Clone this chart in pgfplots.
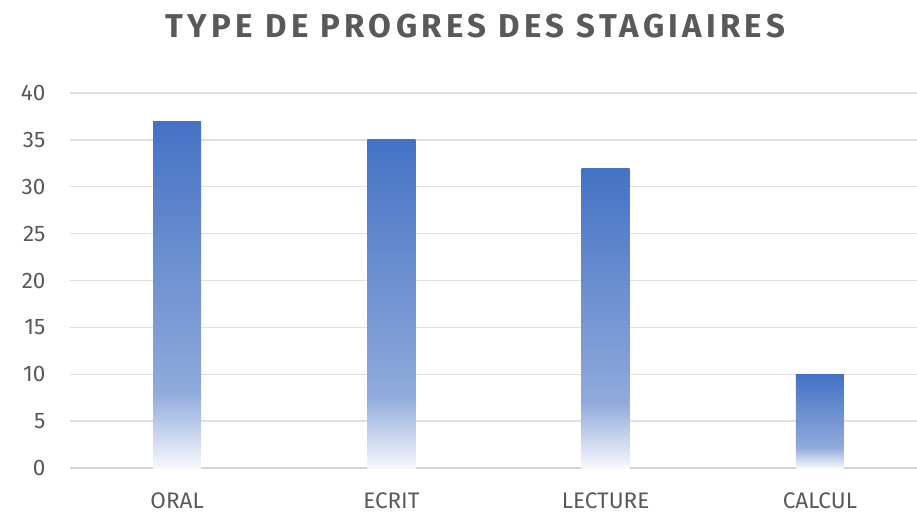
\documentclass[border=0pt]{standalone}
\usepackage{fontspec}
\setmainfont{Fira Sans}
\newfontfamily\titlefont[LetterSpace=13]{Fira Sans Bold}
\usepackage{pgfplots}
\pgfplotsset{compat=1.18}
\definecolor{txtgray}{HTML}{595959}
\definecolor{gridgray}{HTML}{E0E0E0}
\definecolor{axisgray}{HTML}{D4D4D4}
\definecolor{topblue}{HTML}{4472C4}
\definecolor{midblue}{HTML}{90AADB}
\definecolor{lowwhite}{HTML}{F6F8FC}
\pgfdeclareverticalshading{barfade}{100bp}{color(0bp)=(lowwhite); color(25bp)=(lowwhite); color(36bp)=(midblue); color(75bp)=(topblue); color(100bp)=(topblue)}
\begin{document}
\begin{tikzpicture}
\path[use as bounding box] (-70pt,-47pt) rectangle (847pt,468pt);
\begin{axis}[
  at={(0,0)}, anchor=south west,
  scale only axis,
  width=857pt, height=375pt,
  xmin=-0.5, xmax=3.5,
  ymin=0, ymax=40,
  ytick={0,5,...,40},
  xtick={0,1,2,3},
  xticklabels={ORAL,ECRIT,LECTURE,CALCUL},
  ymajorgrids,
  grid style={gridgray, line width=1.3pt},
  axis x line*=bottom,
  axis y line*=left,
  y axis line style={draw=none},
  x axis line style={axisgray, line width=1.6pt, -},
  major tick length=0pt,
  tick style={draw=none},
  ticklabel style={font=\fontsize{22.5}{26}\selectfont, text=txtgray},
  yticklabel style={xshift=-21pt},
  xticklabel style={yshift=-21pt},
  /pgf/number format/assume math mode=true,
  ybar, bar width=48pt,
  clip=false,
]
\addplot[draw=none, shading=barfade, bar shift=0pt] coordinates {(0,37)};
\addplot[draw=none, shading=barfade, bar shift=0pt] coordinates {(1,35)};
\addplot[draw=none, shading=barfade, bar shift=0pt] coordinates {(2,32)};
\addplot[draw=none, shading=barfade, bar shift=0pt] coordinates {(3,10)};
\end{axis}
\node[text=txtgray, font=\titlefont\fontsize{33}{38}\selectfont] at (405.5pt,442pt) {TYPE DE PROGRES DES STAGIAIRES};
\end{tikzpicture}
\end{document}
